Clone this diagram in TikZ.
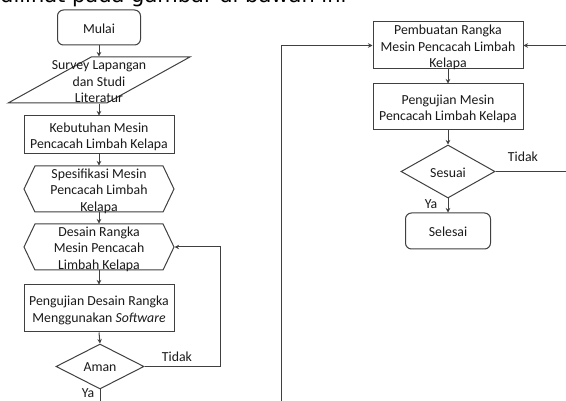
\documentclass[tikz,border=0pt]{standalone}
\usepackage{fontspec}
\setmainfont{Carlito}
\newfontfamily\topfont{DejaVu Sans}
\usetikzlibrary{shapes.geometric,shapes.symbols,arrows.meta}
\definecolor{ln}{HTML}{404040}
\definecolor{tx}{HTML}{1A1A1A}
\tikzset{
 shp/.style={draw=ln, line width=1pt, inner sep=1pt},
 procbox/.style={shp, rectangle, minimum width=150pt},
 termbox/.style={shp, rectangle, rounded corners=6pt},
 iobox/.style={shp, trapezium, trapezium stretches=true, trapezium left angle=52.7, trapezium right angle=127.3, minimum width=182pt, minimum height=46pt},
 hexbox/.style={shp, signal, signal to=west and east, signal pointer angle=129, minimum width=150pt, minimum height=46pt},
 decbox/.style={shp, diamond, aspect=1.8},
 txt/.style={align=center, inner sep=0pt, text=tx, yshift=-2pt, font=\fontsize{13.8}{16.5}\selectfont},
 arr/.style={draw=ln, line width=1pt, -{Stealth[length=4.5pt,width=4.5pt]}},
 plain/.style={draw=ln, line width=1pt},
 lbl/.style={text=tx, font=\fontsize{13.8}{16}\selectfont, inner sep=0pt}
}
\begin{document}
\begin{tikzpicture}[x=1pt,y=-1pt]
\useasboundingbox (0,0) rectangle (566,401);
\clip (0,0) rectangle (566,401);
\fill[white] (0,0) rectangle (566,401);
% cut-off heading
\node[anchor=base west, inner sep=0pt, font=\topfont\fontsize{21}{24}\selectfont, text=black] (head) at (0,2.5) {dilihat pada gambar di bawah ini};
% left column
\node[termbox, minimum width=83pt, minimum height=35pt] (m) at (99,27.5) {};
\node[txt, yshift=1pt] (mt) at (m) {Mulai};
\node[iobox] (s) at (99,80) {\strut};
\node[txt] (st) at (s) {Survey Lapangan\\dan Studi\\Literatur};
\node[procbox, minimum height=38pt] (k) at (99,135) {};
\node[txt] (kt) at (k) {Kebutuhan Mesin\\Pencacah Limbah Kelapa};
\node[hexbox] (sp) at (99,189) {\strut};
\node[txt] (spt) at (sp) {Spesifikasi Mesin\\Pencacah Limbah\\Kelapa};
\node[hexbox] (d) at (99,247) {\strut};
\node[txt] (dt) at (d) {Desain Rangka\\Mesin Pencacah\\Limbah Kelapa};
\node[procbox, minimum height=47pt] (p) at (99,308.5) {};
\node[txt] (pt) at (p) {Pengujian Desain Rangka\\Menggunakan \textit{Software}};
\node[decbox, minimum width=88pt, minimum height=45pt] (a) at (100,366.5) {\strut};
\node[txt, yshift=1pt] (at) at (a) {Aman};
% right column
\node[procbox, minimum height=47pt] (pr) at (448,45.5) {};
\node[txt] (prt) at (pr) {Pembuatan Rangka\\Mesin Pencacah Limbah\\Kelapa};
\node[procbox, minimum height=46pt] (pm) at (448,107) {};
\node[txt] (pmt) at (pm) {Pengujian Mesin\\Pencacah Limbah Kelapa};
\node[decbox, minimum width=94pt, minimum height=53pt] (se) at (448,171.5) {\strut};
\node[txt, yshift=1pt] (set) at (se) {Sesuai};
\node[termbox, minimum width=85pt, minimum height=36pt] (sl) at (448,231) {};
\node[txt, yshift=1pt] (slt) at (sl) {Selesai};
% free ends
\coordinate (fbx) at (220,0);
\coordinate (ab) at (100,402);
\coordinate (lb) at (281,402);
\coordinate (rt) at (567,0);
% connectors
\draw[arr] (m.south) -- (s.north);
\draw[arr] (s.south) -- (k.north);
\draw[arr] (k.south) -- (sp.north);
\draw[arr] (sp.south) -- (d.north);
\draw[arr] (d.south) -- (p.north);
\draw[arr] (p.south) -- (a.north);
\draw[arr] (a.east) -- (a.east -| fbx) -- (fbx |- d.east) -- (d.east);
\draw[plain] (a.south) -- (ab);
\draw[arr] (lb) |- (pr.west);
\draw[arr] (rt |- pr.east) -- (pr.east);
\draw[arr] (pr.south) -- (pm.north);
\draw[arr] (pm.south) -- (se.north);
\draw[plain] (se.east) -- (se.east -| rt);
\draw[arr] (se.south) -- (sl.north);
% labels
\node[lbl] (t1) at (177,357) {Tidak};
\node[lbl] (y1) at (88,393) {Ya};
\node[lbl] (t2) at (523,157) {Tidak};
\node[lbl] (y2) at (431,204) {Ya};
\end{tikzpicture}
\end{document}
